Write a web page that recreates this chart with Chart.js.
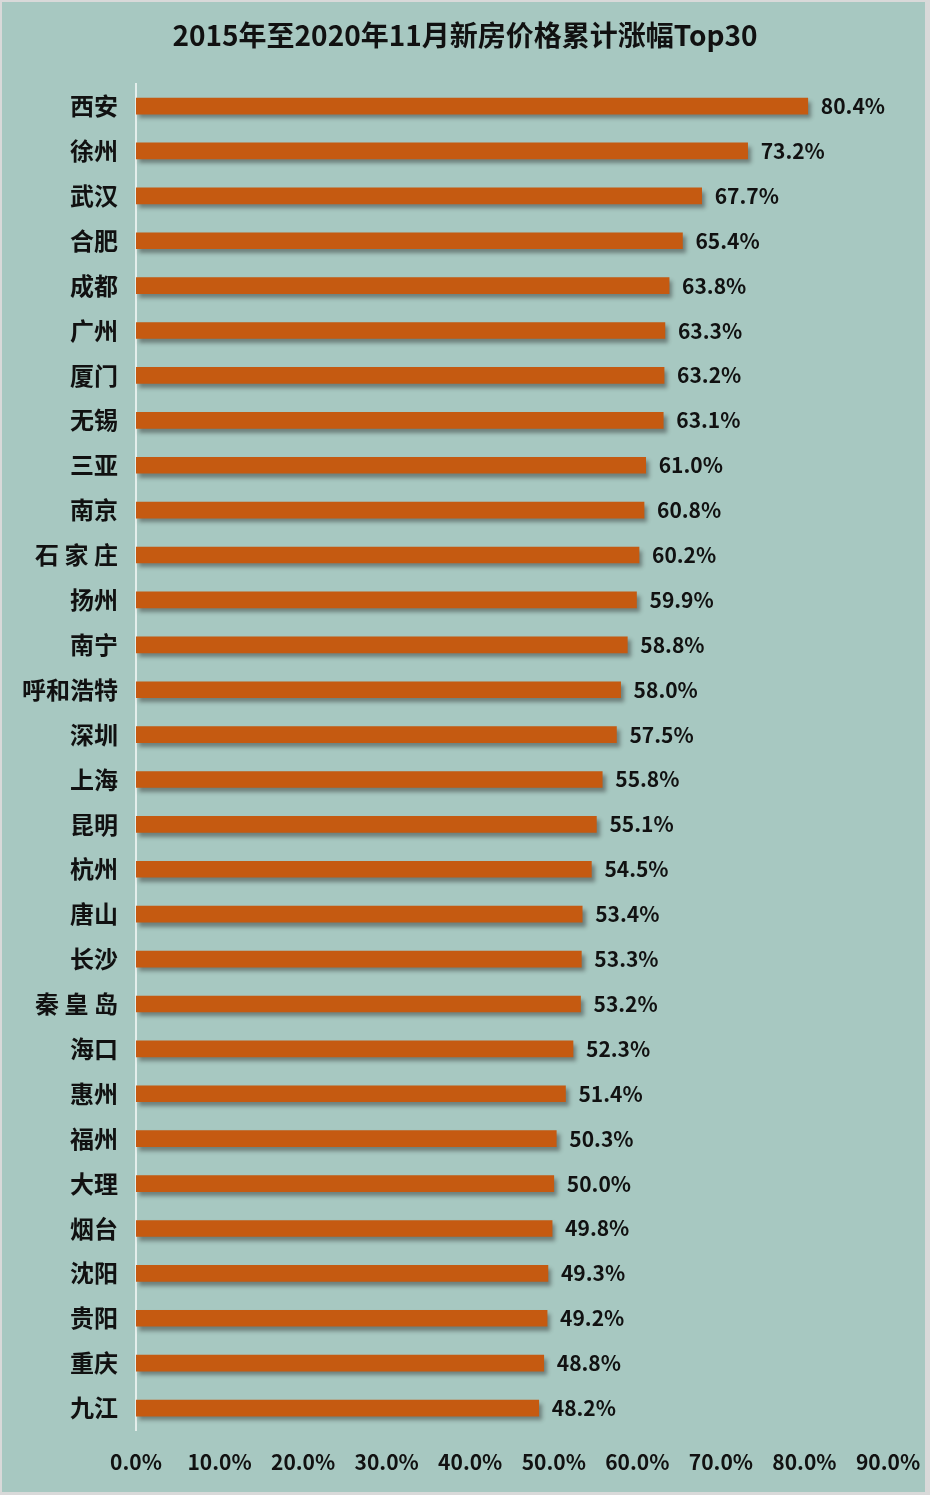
<!DOCTYPE html>
<html lang="zh">
<head>
<meta charset="utf-8">
<title>2015年至2020年11月新房价格累计涨幅Top30</title>
<script src="https://cdn.jsdelivr.net/npm/chart.js@4/dist/chart.umd.min.js"></script>
<style>
  html, body { margin: 0; padding: 0; background: #d9d9d9; }
  #wrap { width: 930px; height: 1495px; position: relative; }
</style>
</head>
<body>
<div id="wrap"><canvas id="chartTop30" width="930" height="1495"></canvas></div>
<script>
// ============ DATA ============
const CITIES = [
  '西安', '徐州', '武汉', '合肥', '成都', '广州', '厦门', '无锡', '三亚', '南京',
  '石 家 庄', '扬州', '南宁', '呼和浩特', '深圳', '上海', '昆明', '杭州', '唐山', '长沙',
  '秦 皇 岛', '海口', '惠州', '福州', '大理', '烟台', '沈阳', '贵阳', '重庆', '九江'
];
const GROWTH = [
  80.4, 73.2, 67.7, 65.4, 63.8, 63.3, 63.2, 63.1, 61.0, 60.8,
  60.2, 59.9, 58.8, 58.0, 57.5, 55.8, 55.1, 54.5, 53.4, 53.3,
  53.2, 52.3, 51.4, 50.3, 50.0, 49.8, 49.3, 49.2, 48.8, 48.2
];
const X_MIN = 0;
const X_MAX = 90;
const X_STEP = 10;

(function () {
  'use strict';

  const BG = '#a7c8c1';
  const FRAME = '#d9d9d9';
  const BAR = '#c55a11';
  const INK = '#111111';
  const FONT = "'Noto Sans CJK SC', 'Noto Sans', sans-serif";

  // background + light frame
  const backdrop = {
    id: 'backdrop',
    beforeDraw: function (chart) {
      const c = chart.ctx;
      c.save();
      c.fillStyle = FRAME;
      c.fillRect(0, 0, chart.width, chart.height);
      c.fillStyle = BG;
      c.fillRect(2, 2, chart.width - 7, chart.height - 5);
      c.restore();
    }
  };

  // soft drop shadow under bars
  const barShadow = {
    id: 'barShadow',
    beforeDatasetsDraw: function (chart) {
      const c = chart.ctx;
      c.save();
      c.shadowColor = 'rgba(40, 40, 40, 0.45)';
      c.shadowBlur = 4;
      c.shadowOffsetX = 3;
      c.shadowOffsetY = 4;
    },
    afterDatasetsDraw: function (chart) {
      chart.ctx.restore();
    }
  };

  // value labels at the end of each bar
  const valueLabels = {
    id: 'valueLabels',
    afterDatasetsDraw: function (chart) {
      const c = chart.ctx;
      const meta = chart.getDatasetMeta(0);
      c.save();
      c.fillStyle = INK;
      c.font = 'bold 21px ' + FONT;
      c.textAlign = 'left';
      c.textBaseline = 'middle';
      meta.data.forEach(function (bar, i) {
        c.fillText(GROWTH[i].toFixed(1) + '%', bar.x + 13, bar.y);
      });
      c.restore();
    }
  };

  new Chart(document.getElementById('chartTop30'), {
    type: 'bar',
    data: {
      labels: CITIES,
      datasets: [{
        data: GROWTH,
        backgroundColor: BAR,
        borderWidth: 0,
        barThickness: 16
      }]
    },
    options: {
      indexAxis: 'y',
      responsive: false,
      animation: false,
      layout: { padding: 0 },
      plugins: {
        legend: { display: false },
        tooltip: { enabled: false },
        title: {
          display: true,
          text: '2015年至2020年11月新房价格累计涨幅Top30',
          color: INK,
          font: { family: FONT, size: 28, weight: 'bold', lineHeight: 1.2 },
          padding: { top: 19, bottom: 31 }
        }
      },
      scales: {
        x: {
          min: X_MIN,
          max: X_MAX,
          grid: { display: false, drawTicks: false },
          border: { display: false },
          ticks: {
            stepSize: X_STEP,
            padding: 19,
            color: INK,
            font: { family: FONT, size: 21, weight: 'bold' },
            callback: function (v) { return v.toFixed(1) + '%'; }
          },
          afterFit: function (s) {
            s.height = 64.5;
            s.paddingLeft = 0;
            s.paddingRight = 42;
          }
        },
        y: {
          grid: { display: false, drawTicks: false },
          border: { display: true, color: '#e4eeeb', width: 2 },
          ticks: {
            padding: 18,
            autoSkip: false,
            color: INK,
            font: { family: FONT, size: 24, weight: 'bold' }
          },
          afterFit: function (s) { s.width = 136; }
        }
      }
    },
    plugins: [backdrop, barShadow, valueLabels]
  });
})();
</script>
</body>
</html>
